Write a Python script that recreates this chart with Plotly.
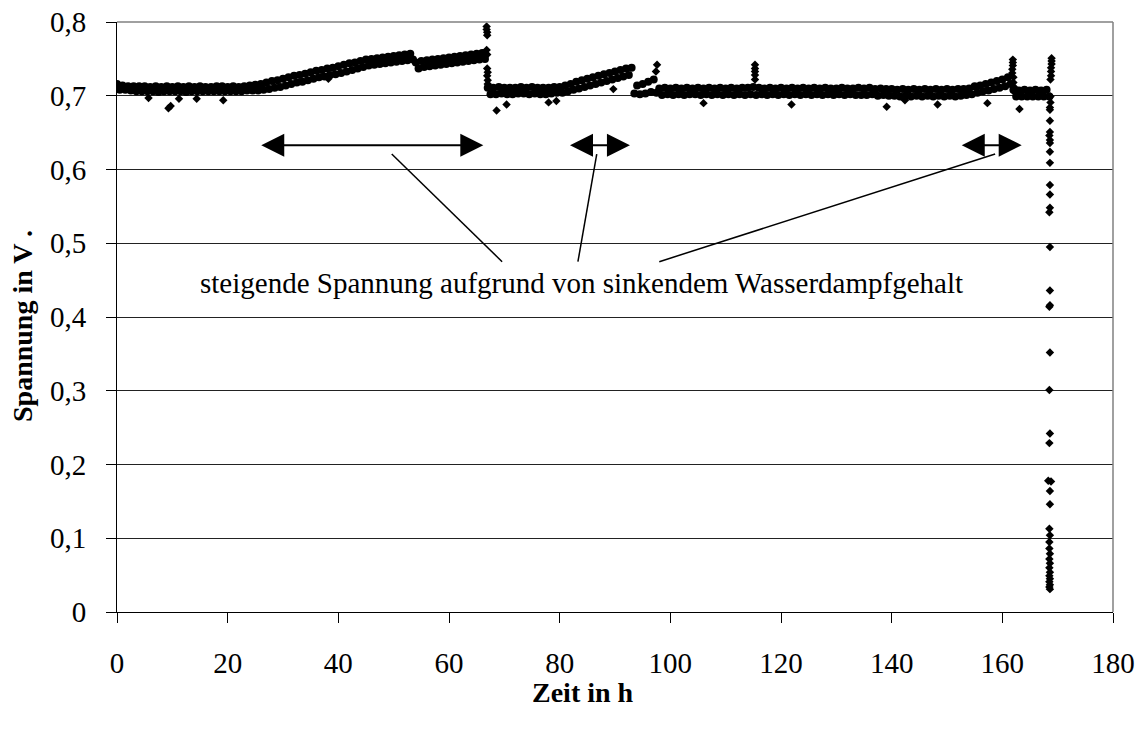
import plotly.graph_objects as go

# ---------------- data ----------------
STEP_H = 0.5  # sampling interval of the dense measurement band (hours)

# dense measurement band, voltage in mV, two readings per hour (upper/lower edge of band)
phase1_start = 0.0
phase1_mV = [716, 708, 714, 708, 713, 707, 713, 706, 713, 706,
             713, 706, 712, 706, 713, 705, 712, 706, 713, 706,
             712, 706, 713, 706, 712, 705, 713, 706, 712, 706,
             713, 706, 712, 706, 712, 706, 713, 706, 713, 706,
             712, 706, 713, 706, 712, 706, 713, 707, 714, 707]

phase2_start = 25.0
phase2_mV = [715, 707, 716, 708, 718, 709, 720, 711, 721, 712,
             723, 714, 725, 716, 727, 718, 728, 719, 730, 721,
             732, 723, 734, 725, 735, 726, 737, 728, 738, 729,
             740, 731, 742, 733, 744, 735, 745, 737, 747, 739,
             749, 741, 750, 742, 751, 743, 752, 744, 753, 745,
             754, 746, 755, 747, 756, 748, 757, 749]

phase3_start = 54.0
phase3_mV = [745, 737, 747, 739, 748, 740, 749, 741, 750, 742,
             751, 743, 752, 744, 753, 745, 754, 746, 755, 747,
             756, 748, 757, 749, 758, 750]

phase4_start = 67.0
phase4_mV = [711, 702, 711, 702, 712, 703, 711, 702, 711, 702,
             711, 703, 712, 703, 711, 702, 712, 703, 711, 702,
             711, 702, 711, 703, 712, 704]

phase5_start = 80.0
phase5_mV = [712, 704, 714, 706, 716, 708, 719, 710, 721, 712,
             723, 714, 725, 716, 727, 718, 729, 720, 731, 722,
             733, 724, 735, 726, 737, 728, 738]

phase6_start = 93.5
phase6_mV = [703,
             714, 702, 716, 703, 719, 705, 722, 704,
             710, 701, 711, 702,
             710, 701, 711, 702, 710, 701, 711, 702, 710, 702,
             711, 701, 710, 702, 711, 701, 710, 702, 711, 701,
             710, 702, 711, 701, 710, 702, 711, 701, 711, 702,
             712, 701, 711, 702, 710, 701, 711, 702, 710, 701,
             711, 702, 710, 701, 711, 702, 710, 701, 711, 702,
             710, 701, 711, 702, 710, 701, 711, 702, 710, 701,
             710, 702, 711, 701, 710, 702, 710, 701, 711, 701,
             710, 701, 711, 702, 709, 700, 710, 701, 709, 700,
             709, 700, 708, 699, 709, 700, 708, 699, 709, 700,
             708, 699, 709, 700, 708, 699, 709, 700, 708, 699,
             709, 700, 708, 699, 709, 700, 709, 701]

phase7_start = 154.0
phase7_mV = [710, 702, 713, 704, 714, 706, 716, 707,
             718, 709, 720, 711, 722, 713, 725, 716]

phase8_start = 162.0
phase8_mV = [708, 699, 707, 699, 708, 699, 707, 699,
             708, 699, 707, 699, 708, 699]

# short vertical spikes (time h, voltage V)
spike_t = [66.8, 66.8, 66.9, 66.9, 66.8, 66.9, 66.9, 67.0, 66.9, 67.0, 67.0,
           97.4, 97.6,
           115.3, 115.3, 115.3, 115.3, 115.3,
           161.9, 161.9, 161.9, 161.8, 161.8, 162.0, 162.0, 162.1, 162.2]
spike_v = [0.794, 0.790, 0.786, 0.782, 0.762, 0.756, 0.737, 0.732, 0.727, 0.721, 0.716,
           0.733, 0.742,
           0.742, 0.737, 0.733, 0.728, 0.722,
           0.749, 0.745, 0.741, 0.736, 0.731, 0.725, 0.718, 0.712, 0.705]

# isolated outliers
outlier_t = [5.7, 9.3, 9.7, 11.2, 14.4, 19.2, 38.2, 68.6, 70.4, 78.0, 79.4, 89.7,
             106.0, 121.9, 139.1, 142.4, 148.3, 157.3, 163.1]
outlier_v = [0.697, 0.683, 0.686, 0.696, 0.696, 0.694, 0.723, 0.680, 0.688, 0.691, 0.693, 0.709,
             0.690, 0.688, 0.685, 0.694, 0.688, 0.690, 0.682]

# final voltage collapse at the end of the test
collapse_t = [168.9, 168.9, 168.9, 168.8, 168.8, 168.8, 168.7, 168.7, 168.7, 168.6,
              168.6, 168.6, 168.6, 168.5, 168.6, 168.6, 168.6, 168.6, 168.6, 168.6,
              168.6, 168.5, 168.6, 168.6, 168.6, 168.5, 168.6, 168.5, 168.6, 168.5,
              168.3, 168.8, 168.6, 168.6, 168.5, 168.6, 168.5, 168.5, 168.6, 168.5,
              168.6, 168.5, 168.6, 168.5, 168.6, 168.5, 168.6, 168.5, 168.6]
collapse_v = [0.751, 0.747, 0.743, 0.738, 0.733, 0.727, 0.722, 0.699, 0.691, 0.684,
              0.681, 0.666, 0.651, 0.646, 0.640, 0.636, 0.624, 0.609, 0.579, 0.566,
              0.548, 0.542, 0.495, 0.436, 0.416, 0.414, 0.352, 0.301, 0.242, 0.229,
              0.178, 0.177, 0.164, 0.146, 0.113, 0.104, 0.095, 0.086, 0.079, 0.072,
              0.066, 0.060, 0.054, 0.049, 0.045, 0.041, 0.037, 0.034, 0.031]

# axis ticks
x_ticks = [0, 20, 40, 60, 80, 100, 120, 140, 160, 180]
y_ticks = [0, 0.1, 0.2, 0.3, 0.4, 0.5, 0.6, 0.7, 0.8]
y_tick_labels = ["0", "0,1", "0,2", "0,3", "0,4", "0,5", "0,6", "0,7", "0,8"]

# double arrows marking rising-voltage periods (start h, end h, level V)
arrow_start = [25.8, 81.6, 152.4]
arrow_end = [66.2, 92.7, 163.5]
arrow_level = 0.633

annotation_text = "steigende Spannung aufgrund von sinkendem Wasserdampfgehalt"

# ---------------- build ----------------
phases = [(phase1_start, phase1_mV), (phase2_start, phase2_mV), (phase3_start, phase3_mV),
          (phase4_start, phase4_mV), (phase5_start, phase5_mV), (phase6_start, phase6_mV),
          (phase7_start, phase7_mV), (phase8_start, phase8_mV)]
band_t, band_v = [], []
for start, vals in phases:
    for i, mv in enumerate(vals):
        band_t.append(start + STEP_H * i)
        band_v.append(mv / 1000.0)

FONT = "Liberation Serif"

fig = go.Figure()
fig.add_trace(go.Scatter(x=band_t, y=band_v, mode="markers",
                         marker=dict(color="black", size=8, symbol="circle", line=dict(width=0)),
                         hoverinfo="skip"))
fig.add_trace(go.Scatter(x=spike_t + outlier_t + collapse_t,
                         y=spike_v + outlier_v + collapse_v, mode="markers",
                         marker=dict(color="black", size=6.5, symbol="diamond", line=dict(width=0)),
                         hoverinfo="skip"))

annotations = []
for a0, a1 in zip(arrow_start, arrow_end):
    annotations.append(dict(x=a1, y=arrow_level, ax=a0, ay=arrow_level,
                            xref="x", yref="y", axref="x", ayref="y",
                            text="", showarrow=True, arrowside="end+start",
                            arrowhead=2, startarrowhead=2, arrowsize=2.3, startarrowsize=2.3,
                            arrowwidth=2, arrowcolor="black", standoff=0, startstandoff=0))

annotations.append(dict(x=84, y=0.446, xref="x", yref="y", text=annotation_text,
                        showarrow=False, font=dict(family=FONT, size=29, color="black"),
                        xanchor="center", yanchor="middle"))
annotations.append(dict(x=0.468, y=-0.1356, xref="paper", yref="paper", text="<b>Zeit in h</b>",
                        showarrow=False, font=dict(family=FONT, size=28, color="black"),
                        xanchor="center", yanchor="middle"))
annotations.append(dict(x=-0.0954, y=0.4847, xref="paper", yref="paper", text="<b>Spannung in V .</b>",
                        showarrow=False, textangle=-90, font=dict(family=FONT, size=28, color="black"),
                        xanchor="center", yanchor="middle"))

# leader lines from arrows to the text
leader = [(49.65, 0.621, 69.6, 0.475), (86.7, 0.621, 83.3, 0.475), (158.7, 0.621, 98.0, 0.475)]
shapes = []
for x0, y0, x1, y1 in leader:
    shapes.append(dict(type="line", xref="x", yref="y", x0=x0, y0=y0, x1=x1, y1=y1,
                       line=dict(color="black", width=1.5)))
# gray plot-area border at top and right
shapes.append(dict(type="line", xref="paper", yref="paper", x0=0, x1=1, y0=1, y1=1,
                   line=dict(color="#808080", width=1.5), layer="above"))
shapes.append(dict(type="line", xref="paper", yref="paper", x0=1, x1=1, y0=0, y1=1,
                   line=dict(color="#808080", width=1.5), layer="above"))

# the page body has an 8px margin, so the figure is sized/offset to compensate
fig.update_layout(
    width=1135, height=721,
    margin=dict(l=109, r=30, t=14, b=117),
    plot_bgcolor="white", paper_bgcolor="white",
    showlegend=False,
    font=dict(family=FONT, size=29, color="black"),
    annotations=annotations, shapes=shapes,
    xaxis=dict(range=[0, 180], tickvals=x_ticks, ticks="outside", ticklen=10, tickcolor="black",
               tickwidth=1, showline=True, linecolor="black", linewidth=1, showgrid=False,
               zeroline=False, ticklabelstandoff=15, tickfont=dict(family=FONT, size=29),
               automargin=False, ticklabeloverflow="allow"),
    yaxis=dict(range=[0, 0.8], tickvals=y_ticks, ticktext=y_tick_labels, ticks="outside",
               ticklen=10, tickcolor="black", tickwidth=1, showline=True, linecolor="black",
               linewidth=1, showgrid=True, gridcolor="#222222", gridwidth=1, zeroline=False,
               ticklabelstandoff=14, tickfont=dict(family=FONT, size=29), automargin=False,
               ticklabeloverflow="allow"),
)

fig.write_html("out.html")
